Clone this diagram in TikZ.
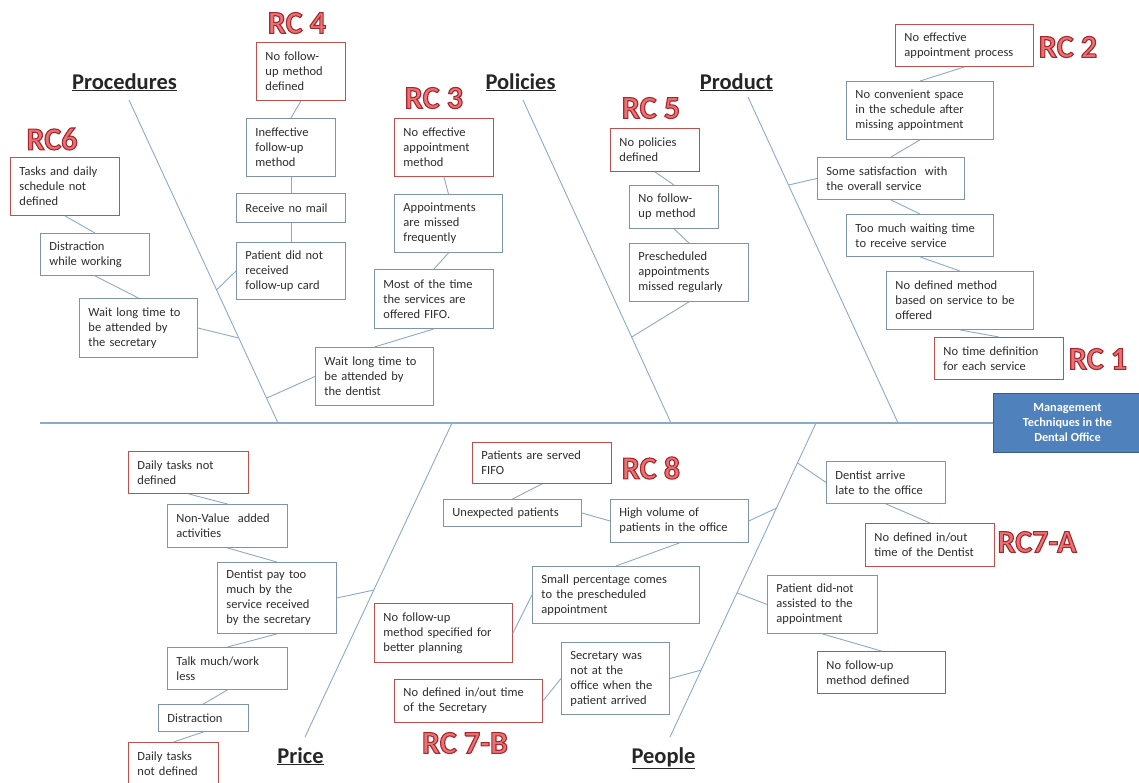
\documentclass[tikz,border=0pt]{standalone}
\usepackage{fontspec}
\setmainfont{Carlito}
\usetikzlibrary{calc}
\definecolor{bone}{RGB}{140,170,200}
\definecolor{boxline}{RGB}{125,148,170}
\definecolor{rcline}{RGB}{192,80,77}
\definecolor{rcfill}{RGB}{232,115,117}
\definecolor{headfill}{RGB}{79,129,189}
\definecolor{headline}{RGB}{56,93,138}
\definecolor{txt}{RGB}{45,45,45}
% outlined lettering for the root-cause tags
\newcommand\outlinedtext[1]{\special{pdf:literal direct 2 Tr 1.1 w 0.66 0.15 0.17 RG}#1\special{pdf:literal direct 0 Tr}}
\begin{document}
\begin{tikzpicture}[x=1pt,y=-1pt,
  cause/.style={draw=boxline, line width=0.9pt, fill=white, anchor=north west,
    align=left, inner xsep=9pt, inner ysep=2pt, text=txt,
    font=\fontsize{12.5}{15}\selectfont},
  rootcause/.style={cause, draw=rcline},
  sz/.code 2 args={\pgfmathsetmacro\tw{#1-18}\tikzset{minimum width=#1pt, minimum height=#2pt, text width=\tw pt}},
  conn/.style={draw=bone, line width=0.9pt},
  spine/.style={draw=bone, line width=1.4pt},
  category/.style={anchor=base, font=\fontsize{22.5}{22.5}\selectfont\bfseries, text=black!85},
  rctag/.style={font=\fontsize{32}{32}\selectfont\bfseries, text=rcfill},
  effect/.style={draw=headline, line width=1pt, fill=headfill, anchor=north west,
    text=white, align=center, font=\fontsize{12.3}{15}\selectfont\bfseries,
    minimum width=148pt, minimum height=59pt, inner sep=2pt}
]
\useasboundingbox (0,0) rectangle (1139,782);
\fill[white] (0,0) rectangle (1139,782);

% ---- spine and bones ----
\node[effect] (head) at (993,393) {Management\\Techniques in the\\Dental Office};
\coordinate (tail) at (40,423);
\draw[spine] (tail) -- (head.west);

\coordinate (procTop) at (129,100);  \coordinate (procEnd) at (278,423);
\coordinate (polTop) at (523,100);   \coordinate (polEnd) at (671,423);
\coordinate (prodTop) at (748,97);   \coordinate (prodEnd) at (898,423);
\coordinate (priceEnd) at (452,423); \coordinate (priceBot) at (305,737);
\coordinate (pplEnd) at (816,423);   \coordinate (pplBot) at (670,737);
\draw[conn] (procTop) -- (procEnd);
\draw[conn] (polTop) -- (polEnd);
\draw[conn] (prodTop) -- (prodEnd);
\draw[conn] (priceEnd) -- (priceBot);
\draw[conn] (pplEnd) -- (pplBot);

% ---- category titles ----
\node[category] (tProc) at (124.5,89) {\underline{Procedures}};
\node[category] (tPol) at (520.5,89) {\underline{Policies}};
\node[category] (tProd) at (736.5,89) {\underline{Product}};
\node[category] (tPrice) at (300.5,763) {\underline{Price}};
\node[category] (tPpl) at (663.5,763) {\underline{People}};

% ---- root-cause tags ----
\node[rctag] (rc4) at (297,23) {\outlinedtext{RC 4}};
\node[rctag] (rc6) at (52,139) {\outlinedtext{RC6}};
\node[rctag] (rc3) at (434,98) {\outlinedtext{RC 3}};
\node[rctag] (rc5) at (651,108) {\outlinedtext{RC 5}};
\node[rctag] (rc2) at (1068,47) {\outlinedtext{RC 2}};
\node[rctag] (rc1) at (1098,359) {\outlinedtext{RC 1}};
\node[rctag] (rc8) at (651,468) {\outlinedtext{RC 8}};
\node[rctag] (rc7b) at (465,743) {\outlinedtext{RC 7-B}};
\node[rctag] (rc7a) at (1037,542) {\outlinedtext{RC7-A}};

% ---- Procedures ----
\node[rootcause, sz={89}{58}] (rcFour) at (256,42) {No follow-\\up method\\defined};
\node[cause, sz={89}{58}] (ineff) at (246,118) {Ineffective\\follow-up\\method};
\node[cause, sz={109}{29}] (nomail) at (236,193) {Receive no mail};
\node[cause, sz={109}{57}] (nocard) at (236,242) {Patient did not\\received\\follow-up card};
\node[rootcause, sz={109}{58}] (rcSix) at (10,157) {Tasks and daily\\schedule not\\defined};
\node[cause, sz={109}{42}] (distr) at (40,233) {Distraction\\while working};
\node[cause, sz={118}{59}] (waitsec) at (79,298) {Wait long time to\\be attended by\\the secretary};
\node[cause, sz={118}{58}] (waitdent) at (315,347) {Wait long time to\\be attended by\\the dentist};
\node[cause, sz={119}{59}] (mostfifo) at (374,269) {Most of the time\\the services are\\offered FIFO.};
\node[cause, sz={108}{58}] (apmiss) at (394,194) {Appointments\\are missed\\frequently};
\node[rootcause, sz={99}{58}] (rcThree) at (394,118) {No effective\\appointment\\method};

\draw[conn] (rcFour.south) -- (ineff.north);
\draw[conn] (ineff.south) -- (nomail.north);
\draw[conn] (nomail.south) -- (nocard.north);
\draw[conn] (nocard.west) -- ($(procTop)!0.588!(procEnd)$);
\draw[conn] (rcSix.south) -- (distr.north);
\draw[conn] (distr.south) -- (waitsec.north);
\draw[conn] (waitsec.east) -- ($(procTop)!0.737!(procEnd)$);
\draw[conn] (waitdent.west) -- ($(procTop)!0.923!(procEnd)$);
\draw[conn] (mostfifo.south) -- (waitdent.north);
\draw[conn] (apmiss.south) -- (mostfifo.north);
\draw[conn] (rcThree.south) -- (apmiss.north);

% ---- Policies ----
\node[rootcause, sz={89}{43}] (rcFive) at (610,128) {No policies\\defined};
\node[cause, sz={89}{43}] (nofu) at (629,185) {No follow-\\up method};
\node[cause, sz={119}{58}] (presch) at (629,243) {Prescheduled\\appointments\\missed regularly};
\draw[conn] (rcFive.south) -- (nofu.north);
\draw[conn] (nofu.south) -- (presch.north);
\draw[conn] (presch.south) -- ($(polTop)!0.734!(polEnd)$);

% ---- Product ----
\node[rootcause, sz={138}{42}] (rcTwo) at (895,24) {No effective\\appointment process};
\node[cause, sz={147}{58}] (noconv) at (846,81) {No convenient space\\in the schedule after\\missing appointment};
\node[cause, sz={147}{42}] (satis) at (817,157) {Some satisfaction \ with\\the overall service};
\node[cause, sz={147}{42}] (toomuch) at (846,214) {Too much waiting time\\to receive service};
\node[cause, sz={147}{58}] (nodef) at (886,271) {No defined method\\based on service to be\\offered};
\node[rootcause, sz={129}{42}] (rcOne) at (934,337) {No time definition\\for each service};
\draw[conn] (rcTwo.south) -- (noconv.north);
\draw[conn] (noconv.south) -- (satis.north);
\draw[conn] (satis.west) -- ($(prodTop)!0.27!(prodEnd)$);
\draw[conn] (satis.south) -- (toomuch.north);
\draw[conn] (toomuch.south) -- (nodef.north);
\draw[conn] (nodef.south) -- (rcOne.north);

% ---- Price ----
\node[rootcause, sz={120}{42}] (rcDailyA) at (128,451) {Daily tasks not\\defined};
\node[cause, sz={120}{43}] (nonval) at (167,504) {Non-Value \ added\\activities};
\node[cause, sz={119}{71}] (paytoo) at (217,562) {Dentist pay too\\much by the\\service received\\by the secretary};
\node[cause, sz={120}{42}] (talk) at (167,647) {Talk much/work\\less};
\node[cause, sz={90}{27}] (distrB) at (158,704) {Distraction};
\node[rootcause, sz={90}{42}] (rcDailyB) at (128,742) {Daily tasks\\not defined};
\draw[conn] (rcDailyA.south) -- (nonval.north);
\draw[conn] (nonval.south) -- (paytoo.north);
\draw[conn] (paytoo.east) -- ($(priceEnd)!0.532!(priceBot)$);
\draw[conn] (paytoo.south) -- (talk.north);
\draw[conn] (talk.south) -- (distrB.north);
\draw[conn] (distrB.south) -- (rcDailyB.north);

% ---- People ----
\node[rootcause, sz={139}{41}] (rcEight) at (472,442) {Patients are served\\FIFO};
\node[cause, sz={138}{27}] (unexp) at (443,499) {Unexpected patients};
\node[cause, sz={138}{43}] (highvol) at (610,499) {High volume of\\patients in the office};
\node[cause, sz={167}{57}] (small) at (532,566) {Small percentage comes\\to the prescheduled\\appointment};
\node[rootcause, sz={138}{59}] (rcPlan) at (374,603) {No follow-up\\method specified for\\better planning};
\node[cause, sz={108}{72}] (secr) at (561,642) {Secretary was\\not at the\\office when the\\patient arrived};
\node[rootcause, sz={148}{43}] (rcSevenB) at (394,679) {No defined in/out time\\of the Secretary};
\node[cause, sz={119}{42}] (late) at (826,461) {Dentist arrive\\late to the office};
\node[rootcause, sz={129}{43}] (rcSevenA) at (865,523) {No defined in/out\\time of the Dentist};
\node[cause, sz={110}{58}] (didnot) at (767,575) {Patient did-not\\assisted to the\\appointment};
\node[rootcause, sz={128}{42}] (rcFU) at (817,651) {No follow-up\\method defined};
\draw[conn] (rcEight.south) -- (unexp.north);
\draw[conn] (unexp.east) -- (highvol.west);
\draw[conn] (highvol.east) -- ($(pplEnd)!0.271!(pplBot)$);
\draw[conn] (highvol.south) -- (small.north);
\draw[conn] (small.west) -- (rcPlan.east);
\draw[conn] (secr.west) -- (rcSevenB.east);
\draw[conn] (secr.east) -- ($(pplEnd)!0.787!(pplBot)$);
\draw[conn] (late.west) -- ($(pplEnd)!0.127!(pplBot)$);
\draw[conn] (late.south) -- (rcSevenA.north);
\draw[conn] (didnot.west) -- ($(pplEnd)!0.541!(pplBot)$);
\draw[conn] (didnot.south) -- (rcFU.north);
\end{tikzpicture}
\end{document}
